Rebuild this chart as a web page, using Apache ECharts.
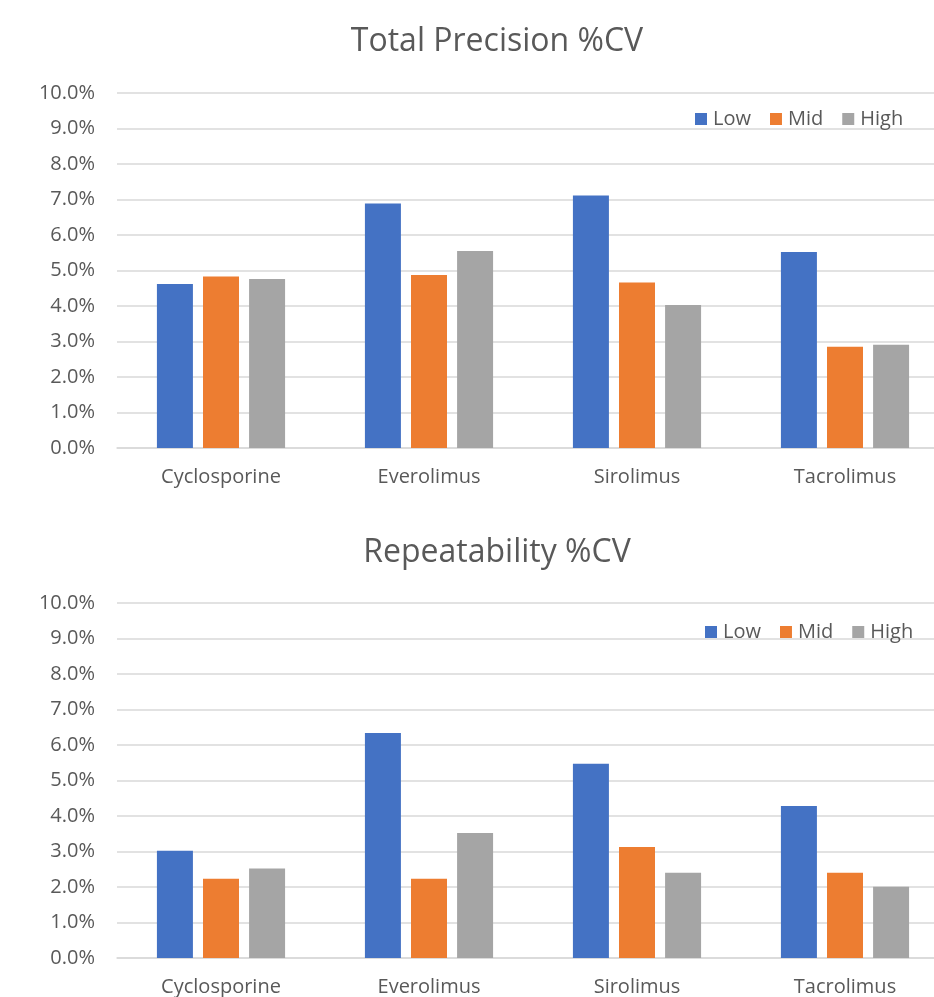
<!DOCTYPE html>
<html>
<head>
<meta charset="utf-8">
<script src="https://cdn.jsdelivr.net/npm/echarts@6/dist/echarts.min.js"></script>
<style>html,body{margin:0;padding:0;background:#fff;overflow:hidden}#c{width:952px;height:997px}</style>
</head>
<body>
<div id="c"></div>
<script>
const categories = ['Cyclosporine', 'Everolimus', 'Sirolimus', 'Tacrolimus'];
const seriesNames = ['Low', 'Mid', 'High'];
const totalLow = [4.62, 6.89, 7.11, 5.52];
const totalMid = [4.83, 4.87, 4.66, 2.85];
const totalHigh = [4.76, 5.55, 4.03, 2.91];
const repLow = [3.02, 6.34, 5.47, 4.28];
const repMid = [2.23, 2.23, 3.13, 2.40];
const repHigh = [2.52, 3.52, 2.40, 2.01];
const yTicks = [0, 1, 2, 3, 4, 5, 6, 7, 8, 9, 10];
const titles = ['Total Precision %CV', 'Repeatability %CV'];
const colors = ['#4472C4', '#ED7D31', '#A5A5A5'];

const FONT = '"Open Sans", "Noto Sans", sans-serif';
const TXT = '#595959';
const chart = echarts.init(document.getElementById('c'));

function grid(top) { return { left: 117, width: 832, top: top, height: 355, containLabel: false }; }
function xAx(i) {
  return {
    type: 'category', gridIndex: i, data: categories,
    axisLine: { lineStyle: { color: '#D9D9D9', width: 1.5 } },
    axisTick: { show: false },
    axisLabel: { color: TXT, fontSize: 20, fontFamily: FONT, margin: 19 }
  };
}
function yAx(i) {
  return {
    type: 'value', gridIndex: i, min: yTicks[0], max: yTicks[yTicks.length - 1], interval: 1,
    axisLine: { show: false }, axisTick: { show: false },
    splitLine: { lineStyle: { color: '#D9D9D9', width: 1.5 } },
    axisLabel: { color: TXT, fontSize: 20, fontFamily: FONT, margin: 22, formatter: v => v.toFixed(1) + '%' }
  };
}
function bars(data, name, idx, gi) {
  return {
    type: 'bar', name: name, xAxisIndex: gi, yAxisIndex: gi, data: data,
    barWidth: 36, barGap: '28%',
    itemStyle: { color: colors[idx] }
  };
}
function legend(left, top) {
  return {
    data: seriesNames, left: left, top: top, icon: 'rect', itemWidth: 12, itemHeight: 12, itemGap: 19,
    textStyle: { color: TXT, fontSize: 20, fontFamily: FONT, padding: [0, 0, 0, 1] }
  };
}

chart.setOption({
  animation: false,
  backgroundColor: '#fff',
  title: [
    { text: titles[0], left: 492, top: 21, textAlign: 'center', textStyle: { color: TXT, fontSize: 32, fontWeight: 'normal', fontFamily: FONT } },
    { text: titles[1], left: 492, top: 532, textAlign: 'center', textStyle: { color: TXT, fontSize: 32, fontWeight: 'normal', fontFamily: FONT } }
  ],
  legend: [legend(690, 104), legend(700, 617)],
  grid: [grid(93), grid(603)],
  xAxis: [xAx(0), xAx(1)],
  yAxis: [yAx(0), yAx(1)],
  series: [
    bars(totalLow, 'Low', 0, 0), bars(totalMid, 'Mid', 1, 0), bars(totalHigh, 'High', 2, 0),
    bars(repLow, 'Low', 0, 1), bars(repMid, 'Mid', 1, 1), bars(repHigh, 'High', 2, 1)
  ]
});
</script>
</body>
</html>
